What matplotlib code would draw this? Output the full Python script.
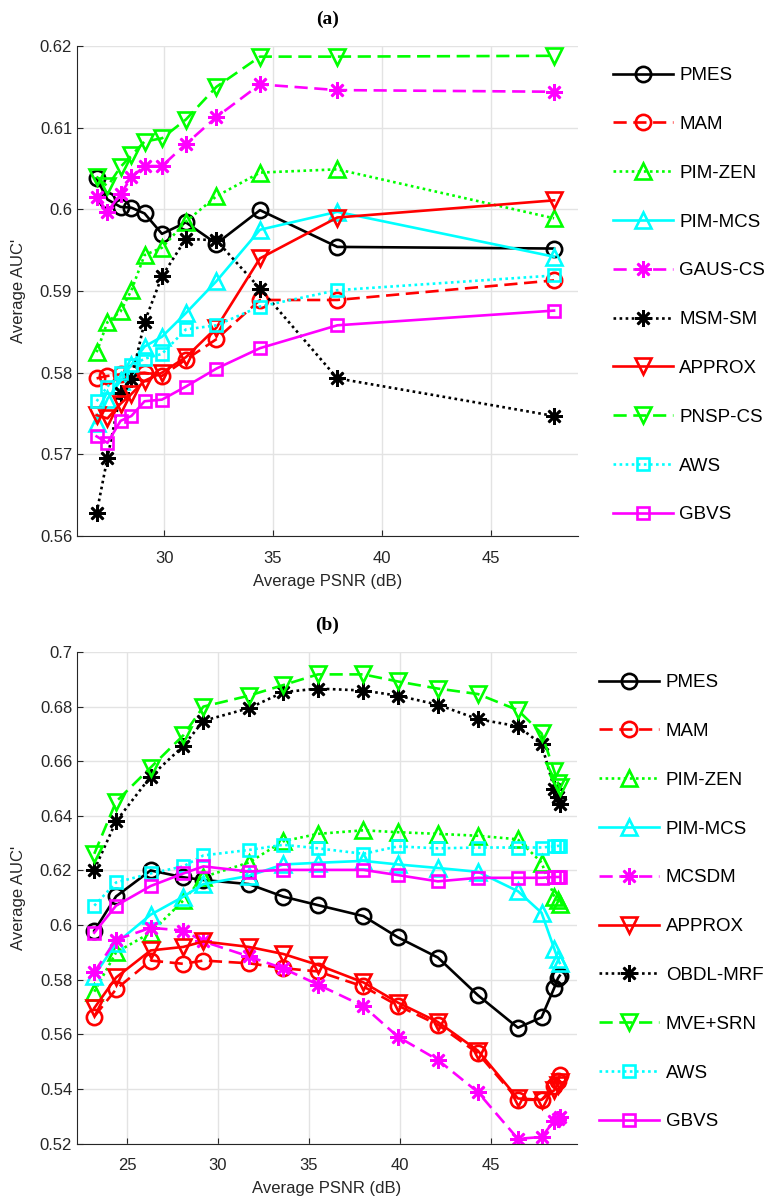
import matplotlib
matplotlib.use("Agg")
import matplotlib.pyplot as plt

plt.rcParams['font.family'] = ['Liberation Sans', 'DejaVu Sans']

# ---------------- data: panel (a) ----------------
psnr_a = [26.9, 27.4, 28.0, 28.5, 29.1, 29.9, 31.0, 32.4, 34.4, 37.95, 47.9]

pmes_a = [0.6038, 0.6012, 0.6003, 0.6002, 0.5995, 0.5970, 0.5984, 0.5958, 0.5999, 0.5954, 0.5952]
mam_a = [0.5793, 0.5796, 0.5798, 0.5799, 0.5800, 0.5796, 0.5816, 0.5841, 0.5889, 0.5889, 0.5913]
pimzen_a = [0.5825, 0.5862, 0.5875, 0.5901, 0.5944, 0.5953, 0.5985, 0.6016, 0.6045, 0.6049, 0.5989]
pimmcs_a = [0.5738, 0.5768, 0.5790, 0.5810, 0.5832, 0.5844, 0.5873, 0.5912, 0.5975, 0.5997, 0.5942]
gaus_a = [0.6015, 0.5997, 0.6019, 0.6039, 0.6053, 0.6053, 0.6080, 0.6113, 0.6153, 0.6146, 0.6144]
msm_a = [0.5628, 0.5696, 0.5775, 0.5792, 0.5862, 0.5918, 0.5964, 0.5962, 0.5903, 0.5793, 0.5747]
approx_a = [0.5748, 0.5744, 0.5762, 0.5774, 0.5790, 0.5800, 0.5819, 0.5855, 0.5940, 0.5990, 0.6011]
pnsp_a = [0.6040, 0.6028, 0.6052, 0.6066, 0.6083, 0.6087, 0.6110, 0.6150, 0.6187, 0.6187, 0.6188]
aws_a = [0.5765, 0.5783, 0.5799, 0.5809, 0.5817, 0.5823, 0.5853, 0.5858, 0.5881, 0.5901, 0.5919]
gbvs_a = [0.5722, 0.5714, 0.5741, 0.5747, 0.5765, 0.5767, 0.5783, 0.5805, 0.5830, 0.5858, 0.5876]

# ---------------- data: panel (b) ----------------
psnr_b = [23.2, 24.4, 26.3, 28.1, 29.2, 31.7, 33.6, 35.5, 38.0, 39.9, 42.1, 44.3, 46.5, 47.8, 48.5, 48.7, 48.8]

pmes_b = [0.5979, 0.6105, 0.6200, 0.6175, 0.6165, 0.6150, 0.6104, 0.6073, 0.6033, 0.5955, 0.5881, 0.5743, 0.5624, 0.5662, 0.5770, 0.5805, 0.5815]
mam_b = [0.5665, 0.5765, 0.5870, 0.5858, 0.5870, 0.5860, 0.5842, 0.5830, 0.5775, 0.5705, 0.5635, 0.5530, 0.5360, 0.5360, 0.5410, 0.5430, 0.5450]
pimzen_b = [0.5756, 0.5900, 0.5972, 0.6090, 0.6176, 0.6229, 0.6307, 0.6334, 0.6347, 0.6340, 0.6334, 0.6327, 0.6314, 0.6229, 0.6104, 0.6090, 0.6078]
pimmcs_b = [0.5815, 0.5933, 0.6038, 0.6104, 0.6150, 0.6180, 0.6222, 0.6228, 0.6235, 0.6222, 0.6209, 0.6195, 0.6124, 0.6045, 0.5913, 0.5875, 0.5861]
mcsdm_b = [0.5828, 0.5946, 0.5990, 0.5980, 0.5940, 0.5885, 0.5841, 0.5782, 0.5703, 0.5591, 0.5506, 0.5388, 0.5217, 0.5224, 0.5283, 0.5290, 0.5296]
approx_b = [0.5696, 0.5808, 0.5907, 0.5920, 0.5940, 0.5920, 0.5894, 0.5854, 0.5790, 0.5716, 0.5645, 0.5540, 0.5365, 0.5360, 0.5395, 0.5415, 0.5425]
obdl_b = [0.6202, 0.6380, 0.6544, 0.6656, 0.6748, 0.6794, 0.6853, 0.6866, 0.6859, 0.6840, 0.6807, 0.6754, 0.6728, 0.6662, 0.6500, 0.6470, 0.6445]
mve_b = [0.6261, 0.6452, 0.6577, 0.6695, 0.6800, 0.6840, 0.6879, 0.6918, 0.6918, 0.6892, 0.6866, 0.6846, 0.6787, 0.6702, 0.6564, 0.6520, 0.6505]
aws_b = [0.6071, 0.6156, 0.6189, 0.6215, 0.6255, 0.6275, 0.6294, 0.6281, 0.6261, 0.6288, 0.6281, 0.6284, 0.6284, 0.6284, 0.6288, 0.6290, 0.6290]
gbvs_b = [0.5972, 0.6071, 0.6143, 0.6189, 0.6215, 0.6196, 0.6202, 0.6202, 0.6202, 0.6183, 0.6160, 0.6173, 0.6173, 0.6173, 0.6176, 0.6176, 0.6176]

# ---------------- styles ----------------
BLACK, RED, GREEN, CYAN, MAGENTA = "#000000", "#ff0000", "#00ff00", "#00ffff", "#ff00ff"
SOLID = "-"
DASH = (0, (5, 2.5))
DOT = (0, (1, 1.3))
AST = (8, 2, 0)

series_a = [
    ("PMES", pmes_a, BLACK, SOLID, "o"),
    ("MAM", mam_a, RED, DASH, "o"),
    ("PIM-ZEN", pimzen_a, GREEN, DOT, "^"),
    ("PIM-MCS", pimmcs_a, CYAN, SOLID, "^"),
    ("GAUS-CS", gaus_a, MAGENTA, DASH, AST),
    ("MSM-SM", msm_a, BLACK, DOT, AST),
    ("APPROX", approx_a, RED, SOLID, "v"),
    ("PNSP-CS", pnsp_a, GREEN, DASH, "v"),
    ("AWS", aws_a, CYAN, DOT, "s"),
    ("GBVS", gbvs_a, MAGENTA, SOLID, "s"),
]
series_b = [
    ("PMES", pmes_b, BLACK, SOLID, "o"),
    ("MAM", mam_b, RED, DASH, "o"),
    ("PIM-ZEN", pimzen_b, GREEN, DOT, "^"),
    ("PIM-MCS", pimmcs_b, CYAN, SOLID, "^"),
    ("MCSDM", mcsdm_b, MAGENTA, DASH, AST),
    ("APPROX", approx_b, RED, SOLID, "v"),
    ("OBDL-MRF", obdl_b, BLACK, DOT, AST),
    ("MVE+SRN", mve_b, GREEN, DASH, "v"),
    ("AWS", aws_b, CYAN, DOT, "s"),
    ("GBVS", gbvs_b, MAGENTA, SOLID, "s"),
]

MSIZE = {"o": 11, "^": 11, "v": 11, "s": 8}


def draw(ax, x, series, title, xlim, ylim, yticks, xticks, leg_x, leg_y):
    for name, vals, col, ls, mk in series:
        ms = MSIZE.get(mk, 12) if isinstance(mk, str) else 12
        ax.plot(x, vals, color=col, linestyle=ls, linewidth=1.9, marker=mk,
                markersize=ms, markerfacecolor="none", markeredgecolor=col,
                markeredgewidth=1.9, label=name)
    ax.set_xlim(*xlim)
    ax.set_ylim(*ylim)
    ax.set_xticks(xticks)
    ax.set_yticks(yticks)
    ax.set_yticklabels(["%g" % t for t in yticks])
    ax.grid(True, color="#e3e3e3", linewidth=1.0)
    ax.set_axisbelow(True)
    for s in ("top", "right"):
        ax.spines[s].set_visible(False)
    for s in ("left", "bottom"):
        ax.spines[s].set_color("#262626")
    ax.tick_params(direction="in", length=4, labelsize=12, colors="#262626")
    ax.tick_params(axis="x", pad=10.5)
    ax.set_xlabel("Average PSNR (dB)", fontsize=12, color="#262626", labelpad=6)
    ax.set_ylabel("Average AUC'", fontsize=12, color="#262626", labelpad=10)
    ax.set_title(title, fontsize=14, fontweight="bold", family="Liberation Serif", pad=16)
    ax.legend(loc="upper left", bbox_to_anchor=(leg_x, leg_y), bbox_transform=fig.transFigure,
              frameon=False, fontsize=13.5, handlelength=3.2, handletextpad=0.37,
              labelspacing=1.69, borderpad=0, borderaxespad=0)


fig = plt.figure(figsize=(7.64, 12.02), dpi=100)
ax_a = fig.add_axes([77 / 764, 1 - 536 / 1202, 501 / 764, 490 / 1202])
ax_b = fig.add_axes([77 / 764, 1 - 1143.5 / 1202, 500 / 764, 491.5 / 1202])

draw(ax_a, psnr_a, series_a, "(a)", (26, 49), (0.56, 0.62),
     [0.56, 0.57, 0.58, 0.59, 0.60, 0.61, 0.62], [30, 35, 40, 45],
     612.5 / 764, 1 - 67 / 1202)
draw(ax_b, psnr_b, series_b, "(b)", (22.25, 49.75), (0.52, 0.70),
     [0.52, 0.54, 0.56, 0.58, 0.60, 0.62, 0.64, 0.66, 0.68, 0.70], [25, 30, 35, 40, 45],
     599 / 764, 1 - 674 / 1202)

fig.savefig("out.png", dpi=100)
